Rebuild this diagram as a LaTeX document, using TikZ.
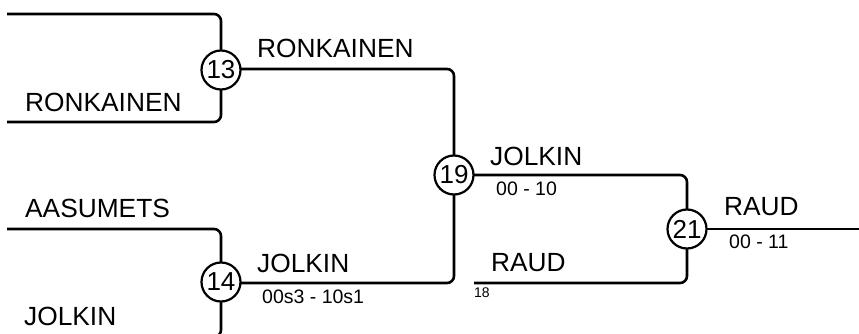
\documentclass[tikz,border=0pt]{standalone}
\usepackage{fontspec}
\setmainfont{Liberation Sans}
\begin{document}
\begin{tikzpicture}[x=1pt,y=-1pt,
  match/.style={circle,draw,line width=2.2pt,minimum size=39pt,inner sep=0pt,fill=white,font=\fontsize{26}{28}\selectfont},
  bline/.style={line width=2.6pt,rounded corners=7pt},
  plname/.style={anchor=base west,inner sep=0pt,font=\fontsize{26.3}{30}\selectfont},
  score/.style={anchor=base west,inner sep=0pt,font=\fontsize{19.5}{22}\selectfont},
  tinylbl/.style={anchor=base west,inner sep=0pt,font=\fontsize{14}{16}\selectfont}]
\useasboundingbox (0,0) rectangle (859,334);
\clip (0,0) rectangle (859,334);
% coordinates
\coordinate (p1) at (7,14);
\coordinate (p2) at (7,122);
\coordinate (p3) at (7,229);
\coordinate (p4) at (7,337);
\coordinate (p5) at (474,283);
\coordinate (pend) at (859,229);
% lines
\draw[bline] (p1) -| (221,70);
\draw[bline] (p2) -| (221,70);
\draw[bline] (p3) -| (221,282);
\draw[bline] (p4) -| (221,282);
\draw[bline] (221,69) -| (454,175);
\draw[bline] (221,283) -| (454,175);
\draw[bline] (454,175) -| (687,229);
\draw[bline] (p5) -| (687,229);
\draw[bline] (687,229) -- (pend);
% match circles
\node[match] (c13) at (221,70) {13};
\node[match] (c14) at (221,282) {14};
\node[match] (c19) at (454,175) {19};
\node[match] (c21) at (687,229) {21};
% labels
\node[plname] (t1) at (25,112) {RONKAINEN};
\node[plname] (t2) at (25,217) {AASUMETS};
\node[plname] (t3) at (24,325) {JOLKIN};
\node[plname] (t4) at (257,58) {RONKAINEN};
\node[plname] (t5) at (257,272) {JOLKIN};
\node[score] (s5) at (262,303) {00s3 - 10s1};
\node[plname] (t6) at (490,165) {JOLKIN};
\node[score] (s6) at (496,195) {00 - 10};
\node[plname] (t7) at (491,271) {RAUD};
\node[tinylbl] (s7) at (474,297) {18};
\node[plname] (t8) at (724,215) {RAUD};
\node[score] (s8) at (729,248) {00 - 11};
\end{tikzpicture}
\end{document}
